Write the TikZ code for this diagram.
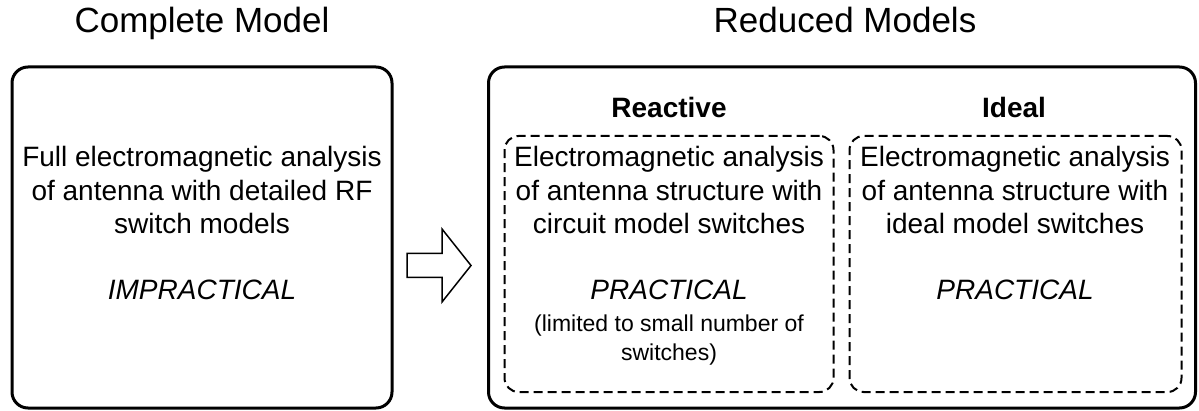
\documentclass[tikz,border=0pt]{standalone}
\usepackage{fontspec}
\setmainfont{Liberation Sans}
\begin{document}
\begin{tikzpicture}[x=1pt,y=-1pt,
  outerbox/.style={draw, line width=3pt, rounded corners=16pt, inner sep=0pt},
  dashbox/.style={draw, line width=2pt, rounded corners=14pt, dash pattern=on 9pt off 5pt, inner sep=0pt},
  titletext/.style={font=\fontsize{35}{42}\selectfont, anchor=base, inner sep=0pt},
  bodytext/.style={font=\fontsize{28}{33.5}\selectfont, anchor=base, inner sep=0pt},
  headtext/.style={font=\fontsize{28}{33.5}\selectfont\bfseries, anchor=base, inner sep=0pt},
  smalltext/.style={font=\fontsize{23}{29}\selectfont, anchor=base, inner sep=0pt},
  blockarrow/.style={draw, line width=1.5pt, line join=miter, fill=white}
]
\useasboundingbox (0,0) rectangle (1199,411);

% titles
\node[titletext] (tcomplete) at (202,33) {Complete Model};
\node[titletext] (treduced) at (845,33) {Reduced Models};

% outer boxes
\node[outerbox, minimum width=380pt, minimum height=341pt] (complete) at (202,237.5) {};
\node[outerbox, minimum width=707pt, minimum height=341pt] (reduced) at (842,237.5) {};

% dashed boxes
\node[dashbox, minimum width=329pt, minimum height=256pt] (reactive) at (669,264) {};
\node[dashbox, minimum width=332pt, minimum height=256pt] (ideal) at (1015.5,264) {};

% headings
\node[headtext] (hreactive) at (669,118) {Reactive};
\node[headtext] (hideal) at (1014,118) {Ideal};

% left text
\node[bodytext] (fulltxt) at (202,167) {\begin{tabular}[t]{@{}c@{}}Full electromagnetic analysis\\of antenna with detailed RF\\switch models\end{tabular}};
\node[bodytext] (imp) at (202,300) {\itshape IMPRACTICAL};

% reactive text
\node[bodytext] (rtxt) at (669,167) {\begin{tabular}[t]{@{}c@{}}Electromagnetic analysis\\of antenna structure with\\circuit model switches\end{tabular}};
\node[bodytext] (rprac) at (669,300) {\itshape PRACTICAL};
\node[smalltext] (rlim) at (669,332) {\begin{tabular}[t]{@{}c@{}}(limited to small number of\\switches)\end{tabular}};

% ideal text
\node[bodytext] (itxt) at (1015,167) {\begin{tabular}[t]{@{}c@{}}Electromagnetic analysis\\of antenna structure with\\ideal model switches\end{tabular}};
\node[bodytext] (iprac) at (1015,300) {\itshape PRACTICAL};

% block arrow
\draw[blockarrow] (407,253.5) -- (442,253.5) -- (442,229) -- (471,265.5) -- (442,302) -- (442,277.5) -- (407,277.5) -- cycle;
\end{tikzpicture}
\end{document}
